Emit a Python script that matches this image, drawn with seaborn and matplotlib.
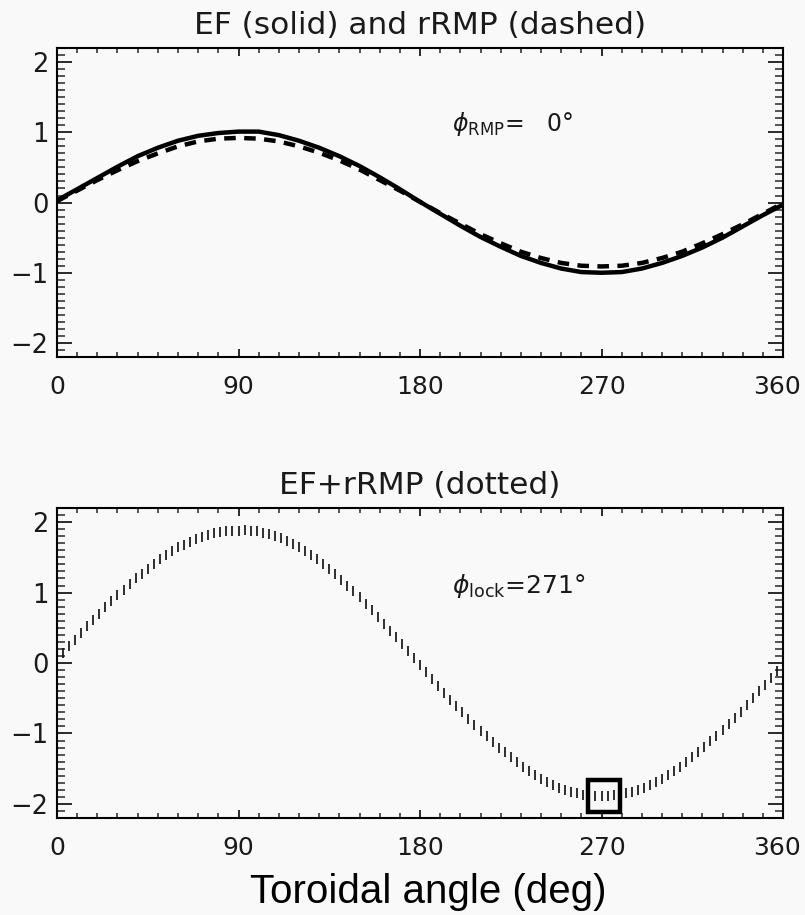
import numpy as np
import pandas as pd
import matplotlib
matplotlib.use("Agg")
import matplotlib.pyplot as plt
import matplotlib.transforms as mtransforms
import seaborn as sns
from matplotlib.ticker import MultipleLocator

# ---------------- data ----------------
angle_10 = list(range(0, 361, 10))
ef_vals = [0.03, 0.19, 0.35, 0.51, 0.66, 0.78, 0.88, 0.95, 0.99, 1.01,
           1.01, 0.96, 0.88, 0.78, 0.66, 0.52, 0.36, 0.19, 0.01, -0.16,
           -0.33, -0.49, -0.63, -0.76, -0.86, -0.94, -0.99, -1.00, -0.99,
           -0.94, -0.86, -0.76, -0.64, -0.50, -0.34, -0.18, -0.03]
rrmp_vals = [0.02, 0.17, 0.32, 0.46, 0.59, 0.70, 0.80, 0.87, 0.91, 0.92,
             0.91, 0.87, 0.80, 0.71, 0.60, 0.47, 0.32, 0.17, 0.01, -0.15,
             -0.30, -0.45, -0.58, -0.70, -0.79, -0.86, -0.90, -0.91, -0.90,
             -0.86, -0.79, -0.70, -0.58, -0.45, -0.31, -0.16, -0.01]

angle_3 = list(range(0, 361, 3))
sum_vals = [0.05, 0.14, 0.24, 0.33, 0.43, 0.52, 0.61, 0.70, 0.79, 0.88,
            0.96, 1.04, 1.12, 1.20, 1.27, 1.34, 1.41, 1.47, 1.53, 1.59,
            1.64, 1.68, 1.72, 1.76, 1.79, 1.82, 1.84, 1.86, 1.87, 1.88,
            1.88, 1.89, 1.88, 1.87, 1.85, 1.83, 1.80, 1.77, 1.73, 1.69,
            1.64, 1.59, 1.53, 1.47, 1.40, 1.33, 1.26, 1.18, 1.10, 1.02,
            0.93, 0.84, 0.75, 0.66, 0.56, 0.46, 0.37, 0.27, 0.17, 0.07,
            -0.03, -0.13, -0.23, -0.33, -0.42, -0.52, -0.61, -0.70, -0.79, -0.88,
            -0.96, -1.04, -1.12, -1.20, -1.27, -1.34, -1.41, -1.47, -1.53, -1.59,
            -1.64, -1.69, -1.73, -1.77, -1.80, -1.83, -1.85, -1.87, -1.88, -1.89,
            -1.89, -1.89, -1.88, -1.87, -1.85, -1.83, -1.80, -1.77, -1.73, -1.69,
            -1.64, -1.59, -1.53, -1.47, -1.41, -1.34, -1.27, -1.19, -1.11, -1.03,
            -0.95, -0.86, -0.78, -0.69, -0.59, -0.50, -0.40, -0.31, -0.21, -0.11,
            -0.01]

lock_angle = 271
lock_value = -1.89
rmp_phase = 0

xticks = [0, 90, 180, 270, 360]
yticks = [-2, -1, 0, 1, 2]

# ---------------- style ----------------
sns.set_style("ticks")
plt.rcParams["font.family"] = ["DejaVu Sans"]
plt.rcParams["mathtext.fontset"] = "dejavusans"

bg = "#f8f9f8"
ink = "#1a1a1a"

fig = plt.figure(figsize=(8.05, 9.15), dpi=100, facecolor=bg)
ax1 = fig.add_axes([0.0708, 0.6098, 0.9019, 0.3377])
ax2 = fig.add_axes([0.0708, 0.1060, 0.9019, 0.3388])

df_top = pd.DataFrame({"angle": angle_10, "EF": ef_vals, "rRMP": rrmp_vals})
df_bot = pd.DataFrame({"angle": angle_3, "sum": sum_vals})

sns.lineplot(data=df_top, x="angle", y="rRMP", ax=ax1, color="black",
             linewidth=3.2, dashes=False, linestyle=(0, (2.6, 1.9)))
sns.lineplot(data=df_top, x="angle", y="EF", ax=ax1, color="black",
             linewidth=3.2)

sns.lineplot(data=df_bot, x="angle", y="sum", ax=ax2, color="#151515",
             linestyle="", marker="|", markersize=7, markeredgewidth=1.25,
             markeredgecolor="#151515", markerfacecolor="#151515")
sns.lineplot(x=[lock_angle], y=[lock_value], ax=ax2, color="black",
             linestyle="", marker="s", markersize=23,
             markerfacecolor="none", markeredgecolor="black",
             markeredgewidth=3.2)

shift_left = mtransforms.ScaledTranslation(-6 / 100, 0, fig.dpi_scale_trans)

for ax in (ax1, ax2):
    ax.set_facecolor(bg)
    ax.set_xlim(0, 360)
    ax.set_ylim(-2.2, 2.2)
    ax.set_xticks(xticks)
    ax.set_yticks(yticks)
    ax.set_xticklabels([str(v) for v in xticks])
    ax.set_yticklabels([str(v).replace("-", "\u2212") for v in yticks])
    ax.xaxis.set_minor_locator(MultipleLocator(10))
    ax.yaxis.set_minor_locator(MultipleLocator(0.1))
    ax.tick_params(axis="x", which="major", direction="in", length=6,
                   width=1.3, top=True, bottom=True, pad=13,
                   labelsize=18, colors=ink)
    ax.tick_params(axis="x", which="minor", direction="in", length=3.5,
                   width=1.1, top=True, bottom=True)
    ax.tick_params(axis="y", which="major", direction="in", length=11,
                   width=1.3, left=True, right=True, pad=6,
                   labelsize=18.5, colors=ink)
    ax.tick_params(axis="y", which="minor", direction="in", length=5.5,
                   width=1.1, left=True, right=True)
    last = ax.get_xticklabels()[-1]
    last.set_transform(last.get_transform() + shift_left)
    for s in ax.spines.values():
        s.set_visible(True)
        s.set_linewidth(1.5)
        s.set_color("black")
    ax.set_xlabel("")
    ax.set_ylabel("")

ax1.set_title("EF (solid) and rRMP (dashed)", fontsize=22.5, color=ink, pad=10)
ax2.set_title("EF+rRMP (dotted)", fontsize=22.5, color=ink, pad=10)

ax1.text(196, 1.12, r"$\phi_{\mathrm{RMP}}$=   " + f"{rmp_phase}°",
         fontsize=17, color=ink, va="center", ha="left")
ax2.text(196, 1.09, r"$\phi_{\mathrm{lock}}$=" + f"{lock_angle}°",
         fontsize=18, color=ink, va="center", ha="left")

fig.text(0.532, 0.013, "Toroidal angle (deg)", fontsize=29,
         family=["Liberation Sans", "DejaVu Sans"], color="black",
         ha="center", va="baseline")

fig.savefig("out.png", dpi=100, facecolor=bg)
